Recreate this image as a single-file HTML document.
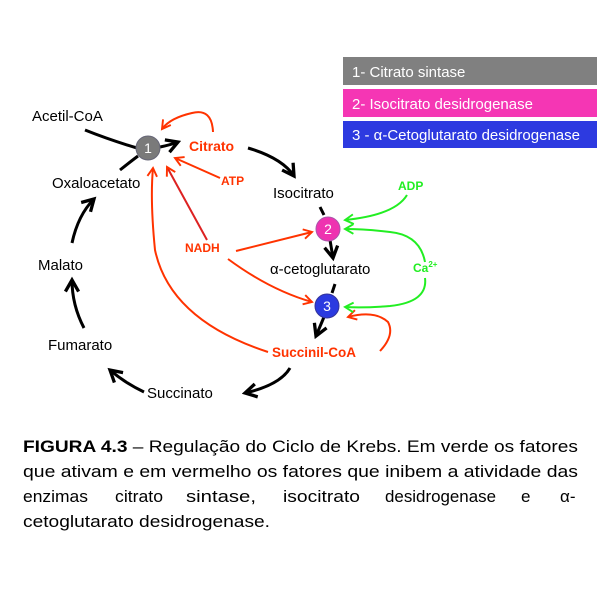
<!DOCTYPE html>
<html><head><meta charset="utf-8"><style>
html,body{margin:0;padding:0;background:#fff;width:600px;height:600px;overflow:hidden}
svg{display:block}
</style></head><body>
<svg width="600" height="600" viewBox="0 0 600 600" xmlns="http://www.w3.org/2000/svg">
<defs>
<marker id="ak" viewBox="0 0 10 10" refX="8" refY="5" markerWidth="5.5" markerHeight="5.5" orient="auto"><path d="M1,1 L8,5 L1,9" fill="none" stroke="#000" stroke-width="2"/></marker>
<marker id="ar" viewBox="0 0 10 10" refX="8" refY="5" markerWidth="6" markerHeight="6" orient="auto"><path d="M1,1 L8,5 L1,9" fill="none" stroke="#ff3300" stroke-width="1.6"/></marker>
<marker id="ag" viewBox="0 0 10 10" refX="8" refY="5" markerWidth="6" markerHeight="6" orient="auto"><path d="M1,1 L8,5 L1,9" fill="none" stroke="#22ee22" stroke-width="1.6"/></marker>
</defs>
<rect x="343" y="57" width="254" height="28" fill="#808080"/>
<rect x="343" y="89" width="254" height="28" fill="#f536b4"/>
<rect x="343" y="121" width="254" height="27" fill="#2d3ae0"/>
<g font-family="Liberation Sans, sans-serif" font-size="15" fill="#fff">
<text x="352" y="77">1- Citrato sintase</text>
<text x="352" y="109">2- Isocitrato desidrogenase</text>
<text x="352" y="140">3 - α-Cetoglutarato desidrogenase</text>
</g>
<g fill="none" stroke="#000" stroke-width="3">
<path d="M85,130 Q110,140 137,148"/>
<path d="M120,170 Q130,162 138,156"/>
<path d="M160,147 Q170,145 178,142" marker-end="url(#ak)"/>
<path d="M248,148 Q282,158 294,176" stroke="#000" marker-end="url(#ak)"/>
<path d="M320,207 L324,215"/>
<path d="M330,240 L333,258" marker-end="url(#ak)"/>
<path d="M335,284 L332,293"/>
<path d="M324,317 L316,336" marker-end="url(#ak)"/>
<path d="M290,368 Q280,385 245,393" marker-end="url(#ak)"/>
<path d="M144,392 Q125,383 110,370" marker-end="url(#ak)"/>
<path d="M84,328 Q72,305 72,280" marker-end="url(#ak)"/>
<path d="M72,243 Q78,215 94,199" marker-end="url(#ak)"/>
</g>
<g fill="none" stroke="#ff3300" stroke-width="2">
<path d="M213,132 Q212,108 192,113 Q170,118 162,129" marker-end="url(#ar)"/>
<path d="M220,178 L175,158" marker-end="url(#ar)"/>
<path d="M207,240 L167,167" marker-end="url(#ar)" stroke="#dd2222"/>
<path d="M268,352 Q170,320 155,250 Q150,200 153,168" marker-end="url(#ar)"/>
<path d="M236,251 L312,232" marker-end="url(#ar)"/>
<path d="M228,259 Q270,290 312,302" marker-end="url(#ar)"/>
<path d="M380,351 Q395,335 388,322 Q375,310 348,317" marker-end="url(#ar)"/>
</g>
<g fill="none" stroke="#22ee22" stroke-width="2">
<path d="M407,195 Q395,215 345,220" marker-end="url(#ag)"/>
<path d="M425,262 Q420,235 390,232 Q365,229 345,229" marker-end="url(#ag)"/>
<path d="M425,278 Q428,302 390,306 Q365,308 345,307" marker-end="url(#ag)"/>
</g>
<circle cx="148" cy="148" r="12" fill="#7a7a7a" stroke="#667" stroke-width="1"/>
<circle cx="328" cy="229" r="12" fill="#ee33b0" stroke="#a5a" stroke-width="1"/>
<circle cx="327" cy="306" r="12" fill="#2b3ae0" stroke="#339" stroke-width="1"/>
<g font-family="Liberation Sans, sans-serif" font-size="14" fill="#fff" text-anchor="middle">
<text x="148" y="153">1</text><text x="328" y="234">2</text><text x="327" y="311">3</text>
</g>
<g font-family="Liberation Sans, sans-serif" font-size="15" fill="#000">
<text x="32" y="121">Acetil-CoA</text>
<text x="52" y="188">Oxaloacetato</text>
<text x="273" y="198">Isocitrato</text>
<text x="270" y="274">α-cetoglutarato</text>
<text x="38" y="270">Malato</text>
<text x="48" y="350">Fumarato</text>
<text x="147" y="398">Succinato</text>
</g>
<g font-family="Liberation Sans, sans-serif" font-weight="bold" fill="#ff3300">
<text x="189" y="151" font-size="14">Citrato</text>
<text x="221" y="185" font-size="12">ATP</text>
<text x="185" y="252" font-size="12">NADH</text>
<text x="272" y="357" font-size="13.5">Succinil-CoA</text>
</g>
<g font-family="Liberation Sans, sans-serif" font-weight="bold" fill="#22ee22" font-size="12">
<text x="398" y="190">ADP</text>
<text x="413" y="272">Ca<tspan font-size="8" dy="-5">2+</tspan></text>
</g>
<g font-family="Liberation Sans, sans-serif" font-size="17" fill="#000">
<text x="23" y="452" textLength="555" lengthAdjust="spacingAndGlyphs"><tspan font-weight="bold">FIGURA 4.3</tspan> – Regulação do Ciclo de Krebs. Em verde os fatores</text>
<text x="23" y="477" textLength="555" lengthAdjust="spacingAndGlyphs">que ativam e em vermelho os fatores que inibem a atividade das</text>
<text x="23" y="502" textLength="65" lengthAdjust="spacingAndGlyphs">enzimas</text>
<text x="115" y="502" textLength="48" lengthAdjust="spacingAndGlyphs">citrato</text>
<text x="186" y="502" textLength="70" lengthAdjust="spacingAndGlyphs">sintase,</text>
<text x="283" y="502" textLength="77" lengthAdjust="spacingAndGlyphs">isocitrato</text>
<text x="385" y="502" textLength="111" lengthAdjust="spacingAndGlyphs">desidrogenase</text>
<text x="521" y="502">e</text>
<text x="560" y="502">α-</text>
<text x="23" y="527" textLength="247" lengthAdjust="spacingAndGlyphs">cetoglutarato desidrogenase.</text>
</g>
</svg>
</body></html>
